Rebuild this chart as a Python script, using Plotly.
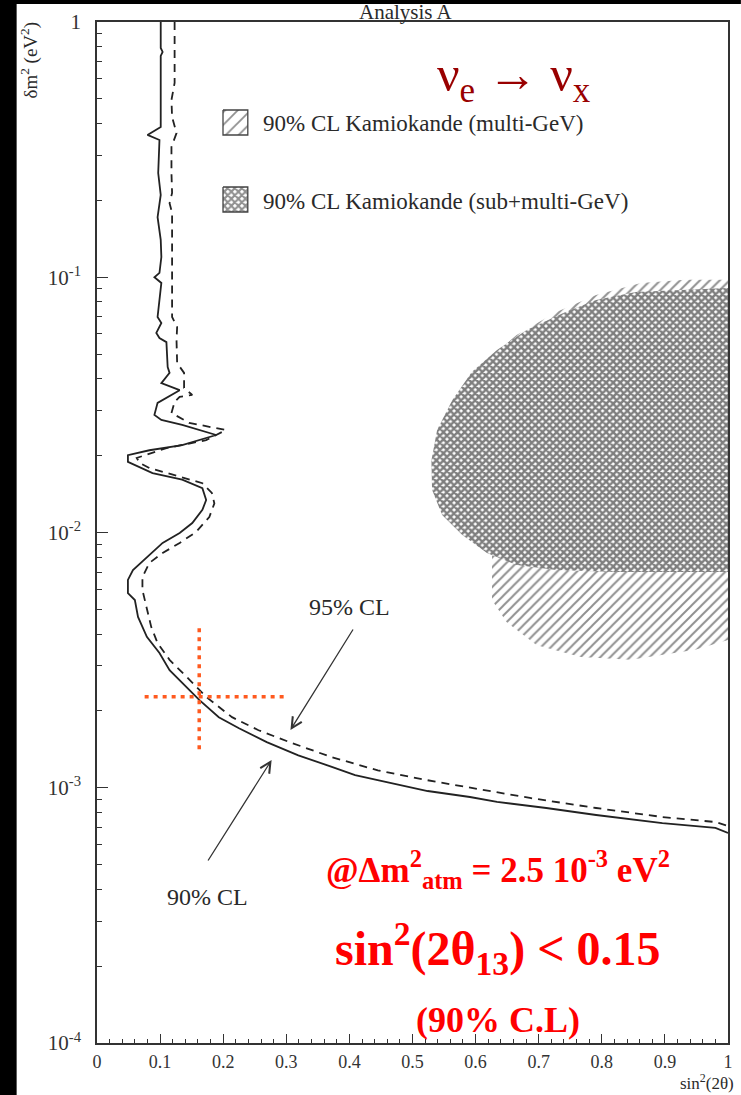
import math
import plotly.graph_objects as go

# ---------------- data ----------------
# 90% CL exclusion contour (solid)
sol_x = [0.101, 0.101, 0.104, 0.101, 0.101, 0.080, 0.099, 0.097, 0.101, 0.096,
         0.101, 0.102, 0.099, 0.091, 0.102, 0.099, 0.096, 0.102, 0.094, 0.099,
         0.110, 0.112, 0.115, 0.102, 0.131, 0.096, 0.091, 0.102, 0.135, 0.189,
         0.135, 0.083, 0.049, 0.049, 0.088, 0.135, 0.167, 0.173, 0.167, 0.151,
         0.131, 0.104, 0.079, 0.057, 0.049, 0.049, 0.060, 0.065, 0.079, 0.099,
         0.115, 0.135, 0.162, 0.193, 0.225, 0.269, 0.319, 0.371, 0.409, 0.461,
         0.524, 0.591, 0.634, 0.712, 0.791, 0.896, 0.980, 1.0]
sol_y = [1.0, 0.791, 0.763, 0.736, 0.388, 0.361, 0.345, 0.256, 0.210, 0.172,
         0.140, 0.120, 0.104, 0.100, 0.095, 0.0814, 0.0699, 0.0662, 0.0605, 0.0578,
         0.0557, 0.0445, 0.0422, 0.0385, 0.0361, 0.0322, 0.0289, 0.0276, 0.0264, 0.0241,
         0.0220, 0.0210, 0.0201, 0.0189, 0.0171, 0.0161, 0.0149, 0.0134, 0.01226, 0.01089,
         0.00995, 0.00910, 0.00802, 0.00713, 0.00652, 0.00579, 0.00544, 0.00467, 0.00390, 0.00337,
         0.00289, 0.00257, 0.00221, 0.00189, 0.00171, 0.00151, 0.00134, 0.00121, 0.00112, 0.00105,
         0.000971, 0.000920, 0.000880, 0.000833, 0.000782, 0.000727, 0.000696, 0.000665]

# 95% CL exclusion contour (dashed)
dash_x = [0.123, 0.123, 0.118, 0.119, 0.126, 0.118, 0.118, 0.119, 0.115, 0.119,
          0.119, 0.127, 0.126, 0.127, 0.138, 0.138, 0.151, 0.131, 0.123, 0.118,
          0.146, 0.204, 0.173, 0.110, 0.063, 0.068, 0.083, 0.135, 0.167, 0.182,
          0.186, 0.178, 0.157, 0.131, 0.104, 0.083, 0.072, 0.072, 0.079, 0.086,
          0.096, 0.115, 0.142, 0.173, 0.214, 0.256, 0.308, 0.371, 0.445, 0.524,
          0.582, 0.686, 0.791, 0.896, 0.980, 1.0]
dash_y = [1.0, 0.577, 0.495, 0.424, 0.367, 0.324, 0.256, 0.214, 0.195, 0.179,
          0.0699, 0.0638, 0.0568, 0.0461, 0.0422, 0.0368, 0.0346, 0.0340, 0.0325, 0.0294,
          0.0269, 0.0252, 0.0230, 0.0214, 0.0196, 0.0187, 0.0179, 0.0165, 0.0156, 0.0143,
          0.0130, 0.0115, 0.01005, 0.00910, 0.00831, 0.00760, 0.00669, 0.00595, 0.00497, 0.00426,
          0.00369, 0.00317, 0.00272, 0.00227, 0.00189, 0.00168, 0.00150, 0.00132, 0.00117, 0.00107,
          0.00101, 0.000912, 0.000833, 0.000768, 0.000734, 0.000708]

# Kamiokande 90% CL allowed region (multi-GeV), hatched
kam_multi_x = [1.0, 0.932, 0.862, 0.791, 0.728, 0.665, 0.618, 0.579, 0.555, 0.547,
               0.563, 0.602, 0.626, 0.626, 0.649, 0.697, 0.767, 0.846, 0.948, 1.0]
kam_multi_y = [0.0978, 0.0978, 0.0950, 0.0852, 0.0731, 0.0594, 0.0474, 0.0361, 0.0276, 0.0192,
               0.0134, 0.01023, 0.00816, 0.00544, 0.00446, 0.00362, 0.00325, 0.00317, 0.00347, 0.00379]

# Kamiokande 90% CL allowed region (sub+multi-GeV), cross-hatched
kam_sub_x = [1.0, 0.917, 0.854, 0.791, 0.739, 0.681, 0.634, 0.594, 0.563, 0.539,
             0.530, 0.531, 0.547, 0.579, 0.618, 0.665, 0.728, 0.822, 0.948, 1.0]
kam_sub_y = [0.0908, 0.0891, 0.0876, 0.0814, 0.0724, 0.0621, 0.0519, 0.0425, 0.0330, 0.0252,
             0.0192, 0.0147, 0.0117, 0.00978, 0.00831, 0.00746, 0.00713, 0.00700, 0.00700, 0.00700]

# Red dotted cross marking the quoted limit
cross_x = 0.162
cross_y = 0.00227
cross_h_x = [0.0755, 0.296]
cross_v_y = [0.00422, 0.00138]

x_tick_vals = [0, 0.1, 0.2, 0.3, 0.4, 0.5, 0.6, 0.7, 0.8, 0.9, 1.0]
x_tick_text = ["0", "0.1", "0.2", "0.3", "0.4", "0.5", "0.6", "0.7", "0.8", "0.9", "1"]
y_tick_vals = [1e-4, 1e-3, 1e-2, 1e-1, 1]
y_tick_text = ["10<sup>-4</sup>", "10<sup>-3</sup>", "10<sup>-2</sup>", "10<sup>-1</sup>", "1"]

# ---------------- layout geometry helpers ----------------
W, H = 741, 1095
ML, MR, MT, MB = 97, 8, 22, 52
PW, PH = W - ML - MR, H - MT - MB


def px(x):  # pixel -> paper x
    return (x - ML) / PW


def py(y):  # pixel -> paper y
    return (H - MB - y) / PH


def dx(x):  # pixel -> data x
    return (x - ML) / PW


def dy(y):  # pixel -> data y (log axis)
    return 10 ** (-4 * (y - MT) / PH)


SERIF = "Liberation Serif"
INK = "#2a2a2a"

fig = go.Figure()

fig.add_trace(go.Scatter(
    x=kam_multi_x, y=kam_multi_y, mode="lines", fill="toself",
    line=dict(width=0, color="rgba(0,0,0,0)"),
    fillpattern=dict(shape="/", fgcolor="#222222", bgcolor="white", size=7, solidity=0.28),
    hoverinfo="skip", showlegend=False))

fig.add_trace(go.Scatter(
    x=kam_sub_x, y=kam_sub_y, mode="lines", fill="toself",
    line=dict(width=0, color="rgba(0,0,0,0)"),
    fillpattern=dict(shape="x", fgcolor="#000000", bgcolor="white", size=5, solidity=0.72),
    hoverinfo="skip", showlegend=False))

# legend icons
for (y0, y1, shape, size, sol) in [(110, 135, "/", 9, 0.2), (187, 212, "x", 5, 0.65)]:
    fig.add_trace(go.Scatter(
        x=[dx(224), dx(249), dx(249), dx(224), dx(224)],
        y=[dy(y0), dy(y0), dy(y1), dy(y1), dy(y0)],
        mode="lines", fill="toself", line=dict(width=1.3, color="#444"),
        fillpattern=dict(shape=shape, fgcolor="#222", bgcolor="white", size=size, solidity=sol),
        hoverinfo="skip", showlegend=False))

fig.add_trace(go.Scatter(
    x=dash_x, y=dash_y, mode="lines",
    line=dict(color="#222", width=1.8, dash="8px,6px"),
    hoverinfo="skip", showlegend=False))

fig.add_trace(go.Scatter(
    x=sol_x, y=sol_y, mode="lines",
    line=dict(color="#222", width=1.8),
    hoverinfo="skip", showlegend=False))

# red dotted cross
fig.add_trace(go.Scatter(
    x=cross_h_x, y=[cross_y, cross_y], mode="lines",
    line=dict(color="#ff5a1f", width=3.5, dash="4px,5px"),
    hoverinfo="skip", showlegend=False))
fig.add_trace(go.Scatter(
    x=[cross_x, cross_x], y=cross_v_y, mode="lines",
    line=dict(color="#ff5a1f", width=3.5, dash="4px,5px"),
    hoverinfo="skip", showlegend=False))

# ---------------- annotations ----------------
ann = []


def text(x, y, s, size, color=INK, bold=False, xanchor="center", yanchor="middle", angle=0):
    ann.append(dict(
        x=px(x), y=py(y), xref="paper", yref="paper", text=("<b>%s</b>" % s) if bold else s,
        showarrow=False, xanchor=xanchor, yanchor=yanchor, textangle=angle,
        font=dict(family=SERIF, size=size, color=color)))


text(408, 12, "Analysis A", 21)
text(29, 60, "δm<sup>2</sup> (eV<sup>2</sup>)", 19, angle=-90)
text(712, 1082, "sin<sup>2</sup>(2θ)", 17)
text(517, 78, "ν<sub>e</sub> → ν<sub>x</sub>", 50, color="#990000")
text(262, 124, "90% CL Kamiokande (multi-GeV)", 23, xanchor="left")
text(262, 201, "90% CL Kamiokande (sub+multi-GeV)", 23, xanchor="left")
text(351, 607, "95% CL", 24)
text(208, 897, "90% CL", 24)
text(501, 870, "@Δm<sup>2</sup><sub>atm</sub> = 2.5 10<sup>-3</sup> eV<sup>2</sup>", 35, color="#ff0000", bold=True)
text(501, 948, "sin<sup>2</sup>(2θ<sub>13</sub>) &lt; 0.15", 48, color="#ff0000", bold=True)
text(501, 1020, "(90% C.L)", 36, color="#ff0000", bold=True)

for (hx, hy, tx, ty) in [(292, 730, 356, 628), (273, 760, 208, 862)]:
    ann.append(dict(
        x=dx(hx), y=math.log10(dy(hy)), xref="x", yref="y",
        ax=dx(tx), ay=math.log10(dy(ty)), axref="x", ayref="y",
        text="", showarrow=True, arrowhead=5, arrowsize=1.6, arrowwidth=1.3,
        arrowcolor="#333"))

minor_y = [m * 10 ** e for e in range(-4, 0) for m in range(2, 10)]

fig.update_layout(
    width=W, height=H,
    margin=dict(l=ML, r=MR, t=MT, b=MB, pad=0),
    paper_bgcolor="white", plot_bgcolor="white",
    annotations=ann,
    shapes=[
        dict(type="rect", xref="paper", yref="paper", x0=px(-5), x1=px(16), y0=py(H + 5), y1=py(-5),
             fillcolor="black", line=dict(width=0), layer="below"),
        dict(type="rect", xref="paper", yref="paper", x0=px(-5), x1=px(W + 5), y0=py(4), y1=py(-5),
             fillcolor="black", line=dict(width=0), layer="below"),
    ],
    xaxis=dict(
        range=[0, 1], tickmode="array", tickvals=x_tick_vals, ticktext=x_tick_text,
        ticks="inside", ticklen=9, tickwidth=1.2, tickcolor="#333",
        minor=dict(dtick=0.02, tick0=0, ticks="inside", ticklen=4, tickwidth=1, tickcolor="#333"),
        showline=True, linecolor="#333", linewidth=1.6, mirror=True,
        showgrid=False, zeroline=False, ticklabelstandoff=2,
        tickfont=dict(family=SERIF, size=18, color="#333")),
    yaxis=dict(
        type="log", range=[-4, 0], tickmode="array", tickvals=y_tick_vals, ticktext=y_tick_text,
        ticks="inside", ticklen=11, tickwidth=1.2, tickcolor="#333",
        minor=dict(tickmode="array", tickvals=minor_y, ticks="inside", ticklen=5, tickwidth=1,
                   tickcolor="#333"),
        showline=True, linecolor="#333", linewidth=1.6, mirror=True,
        showgrid=False, zeroline=False, ticklabelstandoff=10,
        tickfont=dict(family=SERIF, size=21, color="#333")),
)

fig.write_html("out.html")
